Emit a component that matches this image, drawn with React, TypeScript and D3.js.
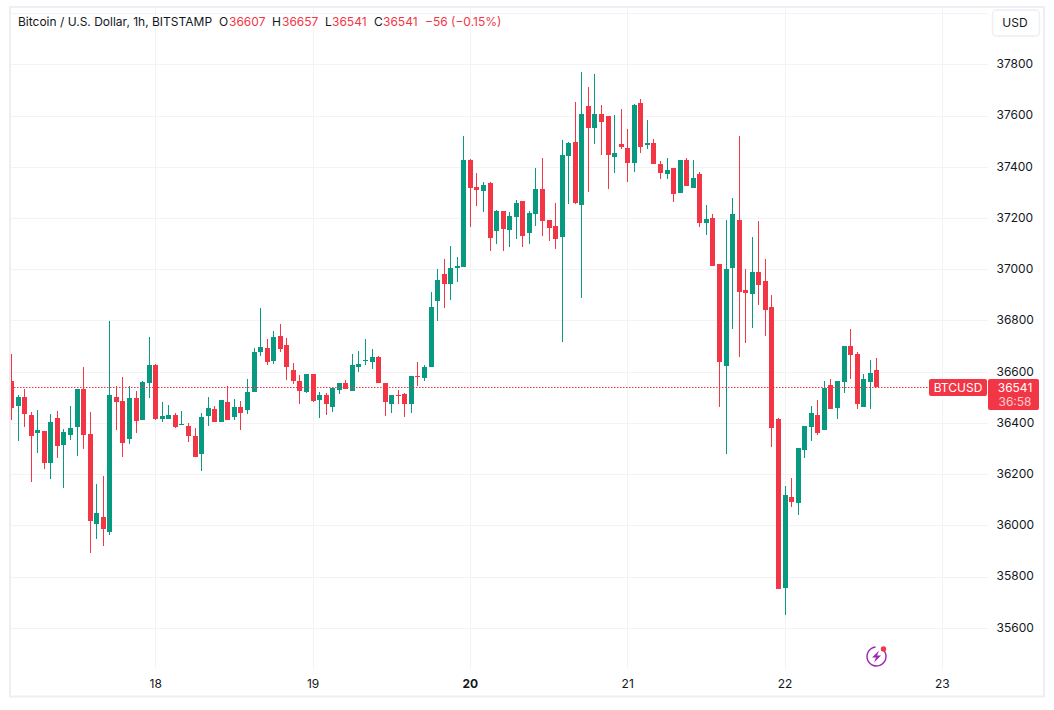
import React, { useRef, useEffect } from 'react';
import * as d3 from 'd3';

const opens = [
  36566, 36468, 36503, 36433, 36363, 36370, 36245, 36421, 36316, 36355,
  36386, 36534, 36359, 36007, 36035, 35976, 36503, 36488, 36339, 36499,
  36414, 36558, 36628, 36417, 36417, 36433, 36394, 36390, 36351, 36281,
  36429, 36456, 36406, 36484, 36425, 36464, 36453, 36523, 36679, 36695,
  36644, 36742, 36707, 36609, 36566, 36523, 36593, 36492, 36511, 36464,
  36531, 36558, 36527, 36621, 36644, 36640, 36660, 36558, 36476, 36511,
  36515, 36476, 36585, 36578, 36621, 36878, 36984, 36945, 37007, 37011,
  37429, 37324, 37308, 37339, 37152, 37230, 37156, 37207, 37269, 37144,
  37218, 37316, 37195, 37171, 37128, 37445, 37500, 37253, 37640, 37554,
  37609, 37601, 37441, 37492, 37476, 37417, 37652, 37488, 37496, 37414,
  37375, 37398, 37300, 37429, 37320, 37375, 37183, 37203, 37023, 36625,
  37007, 37195, 36921, 36906, 36992, 36957, 36855, 36418, 35757, 36113,
  36089, 36296, 36386, 36433, 36375, 36550, 36461, 36562, 36703, 36671,
  36464, 36562, 36607,
];
const closes = [
  36462, 36503, 36437, 36351, 36374, 36245, 36406, 36312, 36367, 36382,
  36534, 36355, 36019, 36050, 35988, 36511, 36484, 36324, 36499, 36410,
  36562, 36628, 36417, 36429, 36433, 36386, 36398, 36351, 36269, 36425,
  36460, 36406, 36492, 36414, 36464, 36441, 36523, 36679, 36699, 36640,
  36738, 36691, 36621, 36566, 36527, 36593, 36488, 36511, 36476, 36539,
  36558, 36535, 36629, 36632, 36648, 36660, 36558, 36484, 36511, 36507,
  36476, 36585, 36582, 36621, 36855, 36961, 36945, 37007, 37015, 37429,
  37320, 37312, 37332, 37125, 37230, 37160, 37210, 37261, 37132, 37222,
  37316, 37191, 37164, 37121, 37449, 37496, 37261, 37609, 37554, 37609,
  37578, 37449, 37457, 37480, 37417, 37644, 37480, 37496, 37414, 37378,
  37390, 37296, 37429, 37328, 37359, 37183, 37199, 37015, 36640, 37003,
  37218, 36914, 36910, 36992, 36941, 36843, 36382, 35754, 36121, 36093,
  36304, 36390, 36441, 36363, 36539, 36457, 36566, 36703, 36668, 36476,
  36574, 36597, 36541,
];
const highs = [
  36671, 36511, 36534, 36445, 36453, 36370, 36437, 36449, 36378, 36468,
  36534, 36621, 36445, 36164, 36195, 36800, 36546, 36582, 36546, 36527,
  36566, 36738, 36632, 36484, 36472, 36441, 36449, 36402, 36382, 36441,
  36503, 36468, 36492, 36546, 36496, 36488, 36574, 36695, 36851, 36730,
  36761, 36789, 36734, 36636, 36589, 36593, 36593, 36523, 36519, 36543,
  36558, 36570, 36671, 36683, 36730, 36691, 36664, 36558, 36511, 36531,
  36519, 36585, 36640, 36629, 36914, 37003, 37043, 37093, 37050, 37523,
  37433, 37378, 37343, 37343, 37234, 37230, 37226, 37273, 37269, 37230,
  37398, 37437, 37195, 37261, 37507, 37500, 37656, 37773, 37714, 37765,
  37644, 37601, 37605, 37628, 37550, 37648, 37667, 37585, 37511, 37425,
  37437, 37398, 37429, 37437, 37429, 37382, 37253, 37218, 37023, 37195,
  37281, 37523, 37003, 37128, 37191, 37043, 36902, 36421, 36156, 36187,
  36304, 36390, 36468, 36492, 36566, 36574, 36566, 36703, 36769, 36679,
  36593, 36648, 36657,
];
const lows = [
  36413, 36331, 36386, 36171, 36284, 36222, 36183, 36265, 36148, 36335,
  36273, 36300, 35894, 35949, 35921, 35964, 36374, 36269, 36320, 36363,
  36414, 36499, 36414, 36406, 36417, 36382, 36394, 36328, 36269, 36214,
  36390, 36406, 36406, 36414, 36414, 36375, 36437, 36523, 36664, 36629,
  36632, 36679, 36570, 36554, 36476, 36519, 36484, 36421, 36433, 36445,
  36515, 36535, 36527, 36601, 36629, 36613, 36558, 36429, 36441, 36476,
  36425, 36441, 36546, 36566, 36621, 36800, 36851, 36882, 36953, 37011,
  37167, 37250, 37226, 37074, 37101, 37074, 37089, 37121, 37089, 37101,
  37171, 37132, 37113, 37082, 36718, 37257, 37257, 36890, 37304, 37492,
  37449, 37316, 37378, 37472, 37343, 37382, 37457, 37472, 37414, 37355,
  37355, 37265, 37300, 37328, 37320, 37168, 37136, 37015, 36464, 36281,
  36769, 36660, 36714, 36773, 36863, 36742, 36308, 35754, 35652, 36074,
  36043, 36265, 36332, 36355, 36375, 36457, 36418, 36519, 36574, 36457,
  36464, 36457, 36541,
];

const priceTicks = [35600, 35800, 36000, 36200, 36400, 36600, 36800, 37000, 37200, 37400, 37600, 37800];
const gridPrices = [...priceTicks, 38000];
// candle index of each midnight, the first candle is 02:00 on the 17th
const dayIndexes = [22, 46, 70, 94, 118, 142];
const dayLabels = ['18', '19', '20', '21', '22', '23'];
const lastPrice = 36541;

const UP = '#089981';
const DOWN = '#F23645';
const TEXT = '#131722';
const GRID = '#F3F3F6';
const BORDER = '#EEEEF4';
const FONT = 'Inter, "Noto Sans", sans-serif';

const legendParts: [number, string, string][] = [
  [18, 'Bitcoin / U.S. Dollar, 1h, BITSTAMP', TEXT],
  [219, 'O', TEXT],
  [229, '36607', DOWN],
  [272, 'H', TEXT],
  [282, '36657', DOWN],
  [325, 'L', TEXT],
  [332, '36541', DOWN],
  [374, 'C', TEXT],
  [383, '36541', DOWN],
  [425, '−56 (−0.15%)', DOWN],
];

const App: React.FC = () => {
  const ref = useRef<SVGSVGElement>(null);
  const width = 1054;
  const height = 710;

  useEffect(() => {
    if (!ref.current) {
      return;
    }
    const svg = d3.select(ref.current);
    svg.selectAll('*').remove();

    const xScale = d3.scaleLinear().domain([0, 132]).range([11, 876.3]);
    const yScale = d3.scaleLinear().domain([35600, 37800]).range([628.3, 64.8]);

    svg.append('defs').append('clipPath').attr('id', 'pane')
      .append('rect').attr('x', 11).attr('y', 8).attr('width', 1032).attr('height', 661);

    const pane = svg.append('g').attr('clip-path', 'url(#pane)');

    pane.selectAll('.hgrid').data(gridPrices).join('rect')
      .attr('x', 11).attr('width', 977).attr('height', 1)
      .attr('y', d => Math.floor(yScale(d)))
      .attr('fill', GRID);

    pane.selectAll('.vgrid').data(dayIndexes).join('rect')
      .attr('y', 8).attr('height', 661).attr('width', 1)
      .attr('x', d => Math.round(xScale(d)))
      .attr('fill', GRID);

    const candles = opens.map((open, i) => ({ i, open, close: closes[i], high: highs[i], low: lows[i] }));
    const color = (d: { open: number; close: number }) => (d.close >= d.open ? UP : DOWN);

    pane.selectAll('.wick').data(candles).join('rect')
      .attr('x', d => Math.round(xScale(d.i)))
      .attr('width', 1)
      .attr('y', d => Math.round(yScale(d.high)))
      .attr('height', d => Math.max(1, Math.round(yScale(d.low)) - Math.round(yScale(d.high))))
      .attr('fill', color);

    pane.selectAll('.body').data(candles).join('rect')
      .attr('x', d => Math.round(xScale(d.i)) - 2)
      .attr('width', 5)
      .attr('y', d => Math.round(yScale(Math.max(d.open, d.close))))
      .attr('height', d => Math.max(1, Math.round(yScale(Math.min(d.open, d.close))) - Math.round(yScale(Math.max(d.open, d.close)))))
      .attr('fill', color);

    // last price line
    svg.append('line')
      .attr('x1', 11).attr('x2', 929)
      .attr('y1', Math.floor(yScale(lastPrice)) + 0.5)
      .attr('y2', Math.floor(yScale(lastPrice)) + 0.5)
      .attr('stroke', DOWN)
      .attr('stroke-dasharray', '1.5 1.5');

    // outer frame
    svg.append('rect')
      .attr('x', 10).attr('y', 7).attr('width', 1034).attr('height', 689.5)
      .attr('fill', 'none').attr('stroke', BORDER).attr('stroke-width', 2);

    const priceAxis = svg.append('g')
      .attr('transform', 'translate(996.5,-1)')
      .call(d3.axisRight(yScale).tickValues(priceTicks).tickFormat(d3.format('d')).tickSize(0).tickPadding(0));
    priceAxis.select('.domain').remove();
    priceAxis.selectAll('text')
      .attr('font-family', FONT).attr('font-size', 12).attr('fill', TEXT);

    const timeAxis = svg.append('g')
      .attr('transform', 'translate(0,679)')
      .call(d3.axisBottom(xScale).tickValues(dayIndexes).tickFormat((_, i) => dayLabels[i]).tickSize(0).tickPadding(0));
    timeAxis.select('.domain').remove();
    timeAxis.selectAll('text')
      .attr('font-family', FONT).attr('font-size', 12).attr('fill', TEXT)
      .attr('font-weight', (_, i) => (dayLabels[i] === '20' ? 700 : 400));

    // legend
    svg.selectAll('.legend').data(legendParts).join('text')
      .attr('x', d => d[0]).attr('y', 26)
      .attr('font-family', FONT).attr('font-size', 12)
      .attr('fill', d => d[2])
      .text(d => d[1]);

    // USD button
    svg.append('rect')
      .attr('x', 992.5).attr('y', 10).attr('width', 47).attr('height', 26).attr('rx', 4)
      .attr('fill', '#fff').attr('stroke', BORDER).attr('stroke-width', 1.5);
    svg.append('text')
      .attr('x', 1015).attr('y', 27).attr('text-anchor', 'middle')
      .attr('font-family', FONT).attr('font-size', 12).attr('fill', TEXT)
      .text('USD');

    // price labels
    svg.append('rect')
      .attr('x', 929).attr('y', 379).attr('width', 58).attr('height', 17).attr('rx', 2)
      .attr('fill', DOWN);
    svg.append('text')
      .attr('x', 958).attr('y', 392).attr('text-anchor', 'middle')
      .attr('font-family', FONT).attr('font-size', 12).attr('fill', '#fff')
      .text('BTCUSD');
    svg.append('rect')
      .attr('x', 988).attr('y', 379).attr('width', 51).attr('height', 31).attr('rx', 2)
      .attr('fill', DOWN);
    svg.append('text')
      .attr('x', 1015).attr('y', 392).attr('text-anchor', 'middle')
      .attr('font-family', FONT).attr('font-size', 12).attr('fill', '#fff')
      .text(String(lastPrice));
    svg.append('text')
      .attr('x', 1015).attr('y', 406).attr('text-anchor', 'middle')
      .attr('font-family', FONT).attr('font-size', 12).attr('fill', '#fff').attr('fill-opacity', 0.75)
      .text('36:58');

    // lightning badge
    const badge = svg.append('g').attr('transform', 'translate(876.5,656.5)');
    badge.append('path')
      .attr('d', d3.arc()({ innerRadius: 8.8, outerRadius: 10.2, startAngle: 0.75, endAngle: 2 * Math.PI - 0.1 }) as string)
      .attr('fill', '#9C27B0');
    badge.append('path')
      .attr('d', 'M2.5-6L-4.5 1H-0.5L-2.5 6L4.5-1H0.5Z')
      .attr('fill', '#9C27B0');
    badge.append('circle').attr('cx', 7).attr('cy', -7.5).attr('r', 2.7).attr('fill', DOWN);
  }, []);

  return (
    <svg
      ref={ref}
      width={width}
      height={height}
      viewBox={`0 0 ${width} ${height}`}
      style={{ position: 'absolute', left: 0, top: 0, background: '#fff' }}
    ></svg>
  );
};

export default App;
